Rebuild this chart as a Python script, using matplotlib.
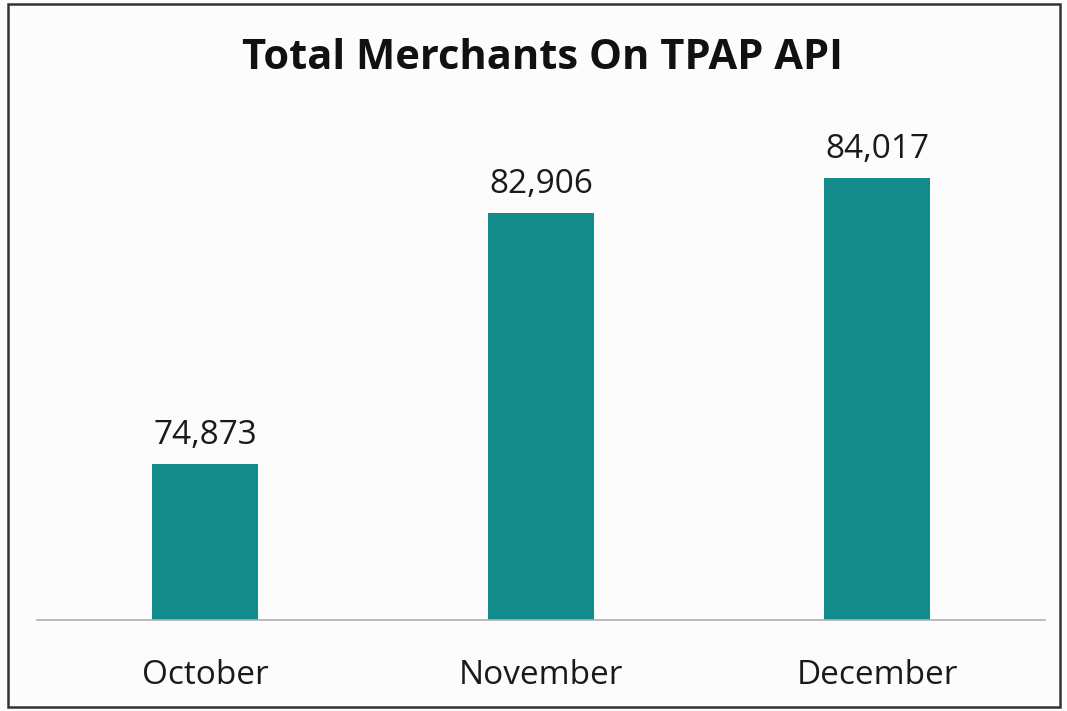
import matplotlib.pyplot as plt
from matplotlib.patches import Rectangle

# chart data
months = ["October", "November", "December"]
merchants = [74873, 82906, 84017]

bar_color = "#138b8b"
plt.rcParams['font.family'] = ['Open Sans', 'DejaVu Sans']

fig = plt.figure(figsize=(10.67, 7.11), dpi=100)
fig.patch.set_facecolor("#fcfcfc")
ax = fig.add_axes([37 / 1067, 91 / 711, 1008 / 1067, 520 / 711])
ax.set_facecolor("none")

x = range(len(months))
bars = ax.bar(x, merchants, width=0.315, color=bar_color)

# truncated y axis like the original
ax.set_ylim(69900, 86524)
ax.set_xlim(-0.5, len(months) - 0.5)

for b, v in zip(bars, merchants):
    ax.annotate(f"{v:,}", (b.get_x() + b.get_width() / 2, v),
                xytext=(0, 9), textcoords="offset points",
                ha="center", va="bottom", fontsize=24, color="#1a1a1a")

ax.set_xticks(list(x))
ax.set_xticklabels(months, fontsize=24, color="#1a1a1a")
ax.tick_params(axis="x", length=0, pad=28)
ax.set_yticks([])
for s in ["top", "right", "left"]:
    ax.spines[s].set_visible(False)
ax.spines["bottom"].set_color("#b0b0b0")
ax.spines["bottom"].set_linewidth(1.2)

fig.text(0.508, 0.918, "Total Merchants On TPAP API", ha="center", va="center",
         fontsize=30, fontweight="bold", color="#111111")

# outer frame
fig.add_artist(Rectangle((8 / 1067, 4 / 711), 1052 / 1067, 703 / 711,
                         transform=fig.transFigure, fill=False,
                         edgecolor="#333333", linewidth=1.8))

fig.savefig("out.png", dpi=100, facecolor=fig.get_facecolor())
